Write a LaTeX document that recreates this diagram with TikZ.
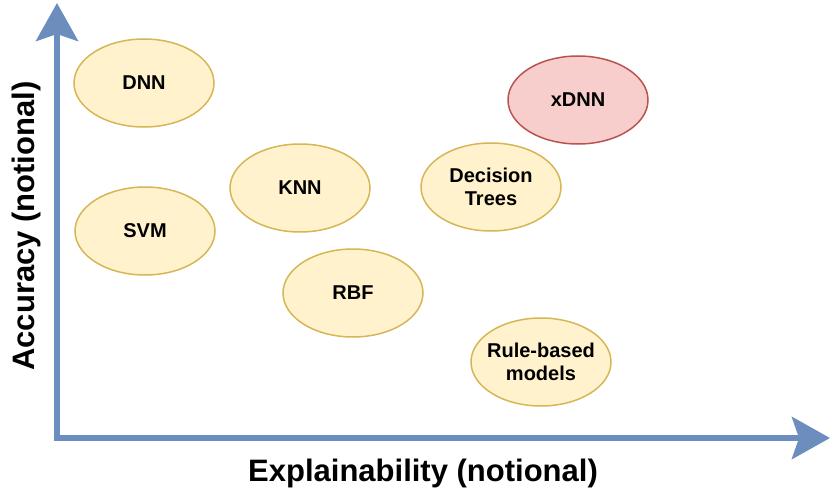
\documentclass[tikz,border=0pt]{standalone}
\usepackage{fontspec}
\setmainfont{Liberation Sans}
\usetikzlibrary{arrows.meta,shapes.geometric}
\definecolor{yfill}{HTML}{FFF2CC}
\definecolor{ystroke}{HTML}{D6B656}
\definecolor{rfill}{HTML}{F8CECC}
\definecolor{rstroke}{HTML}{B85450}
\definecolor{axisblue}{HTML}{6C8EBF}
\tikzset{
  model/.style={ellipse, draw=ystroke, fill=yfill, line width=1.5pt,
    minimum width=140pt, minimum height=88pt, inner sep=0pt,
    font=\fontsize{20}{23}\selectfont\bfseries, align=center},
  hot/.style={model, draw=rstroke, fill=rfill},
  tight/.style={inner xsep=-16pt, inner ysep=-4pt},
  axisline/.style={draw=axisblue, line width=6pt,
    -{Stealth[length=38pt,width=42pt,inset=7pt]}},
  axislabel/.style={font=\fontsize{31}{36}\selectfont\bfseries, inner sep=0pt}
}
\begin{document}
\begin{tikzpicture}[x=1pt,y=-1pt]
\useasboundingbox (0,0) rectangle (830,495);
\coordinate (ytip) at (57,3);
\coordinate (xtip) at (830,438);
\coordinate (ystart) at (57,441);
\coordinate (xstart) at (54,438);
\draw[axisline] (ystart) -- (ytip);
\draw[axisline] (xstart) -- (xtip);
\node[model] (dnn) at (144,83) {DNN};
\node[hot] (xdnn) at (578,100) {xDNN};
\node[model] (knn) at (300,188) {KNN};
\node[model] (dt) at (491,187) {Decision\\Trees};
\node[model] (svm) at (145,231) {SVM};
\node[model] (rbf) at (353,293) {RBF};
\node[model, tight] (rule) at (541,362) {Rule-based\\models};
\node[axislabel] (xlab) at (423,473) {Explainability (notional)};
\node[axislabel, rotate=90] (ylab) at (26,226) {Accuracy (notional)};
\end{tikzpicture}
\end{document}
